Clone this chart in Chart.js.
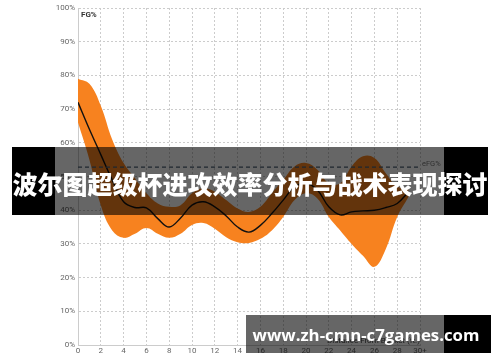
<!DOCTYPE html>
<html>
<head>
<meta charset="utf-8">
<script src="https://cdn.jsdelivr.net/npm/chart.js@4"></script>
<style>
  html, body { margin: 0; padding: 0; background: #fff; }
  #wrap { position: relative; width: 500px; height: 362px; overflow: hidden; }
  #chart { position: absolute; left: 0; top: 0; }
  .blk { position: absolute; background: #000; }
  .gry { position: absolute; background: rgba(0,0,0,0.6); }
  .txt { position: absolute; color: #fff; font-weight: bold; white-space: nowrap; text-align: center; }
  #banner { left: 12px; top: 147px; width: 476px; height: 68px; line-height: 72px;
            font-family: "Noto Sans CJK SC", sans-serif; font-size: 25px; font-weight: 900; }
  #mark { left: 246px; top: 315px; width: 240px; height: 38px; line-height: 40px;
          font-family: "Open Sans", sans-serif; font-size: 16.8px; }
</style>
</head>
<body>
<div id="wrap">
  <canvas id="chart" width="500" height="362"></canvas>
  <div class="blk" style="left:12px;top:147px;width:43px;height:68px"></div>
  <div class="gry" style="left:55px;top:147px;width:389px;height:68px"></div>
  <div class="blk" style="left:444px;top:147px;width:44px;height:68px"></div>
  <div class="txt" id="banner">波尔图超级杯进攻效率分析与战术表现探讨</div>
  <div class="gry" style="left:246px;top:315px;width:198px;height:38px"></div>
  <div class="blk" style="left:444px;top:315px;width:47px;height:38px"></div>
  <div class="txt" id="mark">www.zh-cmn-c7games.com</div>
</div>
<script>
// shot distance (ft) and FG% values
const distances = [0,1,2,3,4,5,6,7,8,9,10,11,12,13,14,15,16,17,18,19,20,21,22,23,24,25,26,27,28,29];
const fgMean  = [72,64,56.5,49,42.5,40.8,40.7,37.5,35,37.7,41.5,42.5,41,38.3,35,33.5,35.5,39,43,47,48,46,41,38.6,39.5,39.8,40,40.8,42,45.5];
const fgUpper = [79,77.5,71,61,54,49.5,45,42,41,41.5,45,46.5,45.5,43,40.5,39.5,41,45,49,53,54,52,48,48,53,56,55.5,51,47,46.5];
const fgLower = [66,55,41.5,34,31.8,33,34.7,33,31.8,33,35.6,36.2,34.5,32,30.5,30.3,31.5,34,38,43,45,43.5,38,34,30,26.5,23.2,28.5,38,44];
const efgLeague = 52.8;
const xTicks = [0,2,4,6,8,10,12,14,16,18,20,22,24,26,28,30];
const yTicks = [0,10,20,30,40,50,60,70,80,90,100];

const pts = arr => arr.map((v, i) => ({ x: distances[i], y: v }));

const labelsPlugin = {
  id: 'labels',
  afterDatasetsDraw(chart) {
    const { ctx, chartArea: a, scales: { y } } = chart;
    const yy = y.getPixelForValue(efgLeague);
    ctx.save();
    ctx.strokeStyle = '#4d6275';
    ctx.lineWidth = 1.3;
    ctx.setLineDash([4, 3]);
    ctx.beginPath();
    ctx.moveTo(a.left, yy);
    ctx.lineTo(a.right, yy);
    ctx.stroke();
    ctx.setLineDash([]);
    ctx.font = '7.5px Roboto';
    ctx.fillStyle = '#777';
    ctx.textBaseline = 'bottom';
    ctx.fillText('eFG%', a.right + 2, yy + 1);
    ctx.font = 'bold 8px Roboto';
    ctx.fillStyle = '#333';
    ctx.textBaseline = 'top';
    ctx.fillText('FG%', a.left + 3, a.top + 3);
    ctx.font = '8px Roboto';
    ctx.fillStyle = '#444';
    ctx.textAlign = 'right';
    ctx.textBaseline = 'bottom';
    ctx.fillText('Distance From Basket (ft.)', a.right, a.bottom);
    ctx.restore();
  }
};

new Chart(document.getElementById('chart'), {
  type: 'line',
  data: {
    datasets: [
      { data: pts(fgUpper), borderWidth: 0, pointRadius: 0, fill: '+1', order: 2,
        backgroundColor: '#f7821f', tension: 0.4 },
      { data: pts(fgLower), borderWidth: 0, pointRadius: 0, fill: false, order: 2, tension: 0.4 },
      { data: pts(fgMean), borderColor: '#111', borderWidth: 1.4, pointRadius: 0, order: 0,
        fill: false, tension: 0.4 }
    ]
  },
  options: {
    responsive: false,
    animation: false,
    layout: { padding: { top: 8, right: 80, bottom: 0, left: 0 } },
    plugins: { legend: { display: false }, tooltip: { enabled: false } },
    scales: {
      x: {
        type: 'linear', min: 0, max: 30,
        afterBuildTicks: s => { s.ticks = xTicks.map(v => ({ value: v })); },
        afterFit: s => { s.height = 17; },
        ticks: { color: '#666', font: { family: 'Roboto', size: 8 }, padding: 1,
                 maxRotation: 0, autoSkip: false,
                 callback: v => v === 30 ? '30+' : v },
        grid: { color: '#cccccc', lineWidth: 1, drawTicks: false },
        border: { color: '#cccccc', dash: [2, 2] }
      },
      y: {
        min: 0, max: 100,
        afterBuildTicks: s => { s.ticks = yTicks.map(v => ({ value: v })); },
        afterFit: s => { s.width = 78; },
        ticks: { color: '#666', font: { family: 'Roboto', size: 8 }, padding: 3,
                 callback: v => v + '%' },
        grid: { color: '#cccccc', lineWidth: 1, drawTicks: false },
        border: { color: '#cccccc', dash: [2, 2] }
      }
    }
  },
  plugins: [labelsPlugin]
});
</script>
</body>
</html>
